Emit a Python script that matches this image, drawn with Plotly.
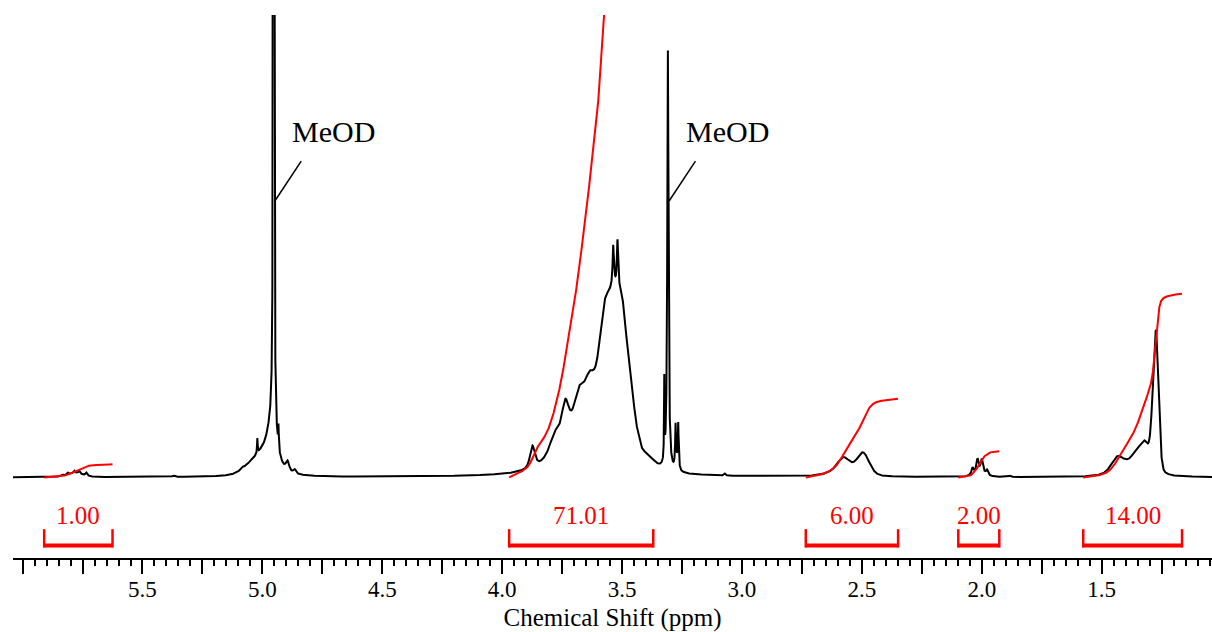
import numpy as np
import plotly.graph_objects as go

# --- 1H NMR peak table: centre (ppm), height, half width (ppm), Lorentzian fraction
peak_ppm = [5.834, 5.812, 5.785, 5.764, 5.734, 5.78, 5.37, 5.084,
            4.953, 4.963, 5.005, 5.06, 5.021, 4.933, 4.895, 4.866,
            3.874, 3.78, 3.737, 3.68, 3.635, 3.65, 3.575, 3.525,
            3.537, 3.519, 3.50, 3.48, 3.46, 3.437, 3.40,
            3.324, 3.309, 3.277, 3.266, 3.271, 3.072,
            2.576, 2.495, 2.58,
            2.039, 2.018, 2.000, 1.978, 2.01, 1.883,
            1.274, 1.29, 1.32, 1.355, 1.435, 1.39]
peak_height = [1.5, 2, 2.5, 3, 3, 4, 1.5, 2,
               1600, 40, 16, 5, 15, 22, 9, 4,
               22, 18, 35, 30, 35, 50, 95, 140,
               39, 48, 47, 47, 47, 15, 12,
               80, 422, 40, 42, 8, 2,
               13, 22, 6,
               7, 13, 13, 5, 5, 1.5,
               138, 15, 26, 14, 14, 9]
peak_hwhm = [0.004, 0.004, 0.004, 0.004, 0.004, 0.04, 0.006, 0.005,
             0.0022, 0.025, 0.045, 0.04, 0.0015, 0.0015, 0.008, 0.006,
             0.012, 0.025, 0.017, 0.025, 0.025, 0.12, 0.03, 0.035,
             0.003, 0.003, 0.013, 0.013, 0.013, 0.013, 0.04,
             0.0012, 0.003, 0.002, 0.002, 0.008, 0.004,
             0.03, 0.03, 0.07,
             0.005, 0.005, 0.005, 0.005, 0.025, 0.004,
             0.013, 0.012, 0.022, 0.025, 0.03, 0.06]
peak_eta = [1, 1, 1, 1, 1, 0.5, 1, 1,
            0.6, 1, 0.5, 0.5, 1, 1, 0.5, 0.5,
            0.6, 0.5, 0.5, 0.5, 0.5, 0.5, 0.5, 0.3,
            1, 1, 0.3, 0.3, 0.3, 0.3, 0.5,
            1, 1, 1, 1, 0.5, 1,
            0.3, 0.3, 0.5,
            1, 1, 1, 1, 0.5, 1,
            0.2, 0.3, 0.5, 0.5, 0.5, 0.5]

# --- integration regions (ppm) and their values
integral_start = [5.910, 3.971, 2.734, 2.098, 1.577]
integral_end = [5.625, 3.370, 2.349, 1.927, 1.165]
integral_value = [1.00, 71.01, 6.00, 2.00, 14.00]
integral_label = ["1.00", "71.01", "6.00", "2.00", "14.00"]
integral_scale = 13.2          # curve rise per integral unit

# --- solvent peaks
solvent_ppm = [4.953, 3.309]
solvent_label = ["MeOD", "MeOD"]

# --- axis ticks
tick_values = [6.0, 5.75, 5.5, 5.25, 5.0, 4.75, 4.5, 4.25, 4.0, 3.75, 3.5,
               3.25, 3.0, 2.75, 2.5, 2.25, 2.0, 1.75, 1.5, 1.25]
tick_labels = ["", "", "5.5", "", "5.0", "", "4.5", "", "4.0", "", "3.5",
               "", "3.0", "", "2.5", "", "2.0", "", "1.5", ""]

X_RANGE = [6.04, 1.04]
Y_RANGE = [-81, 465]
SERIF = "Liberation Serif, Times New Roman, serif"
RED = "#ff0000"


def line_shape(x, c, h, w, eta):
    r2 = ((x - c) / w) ** 2
    return h * (eta / (1.0 + r2) + (1.0 - eta) * np.exp(-np.log(2.0) * r2))


grid = np.arange(X_RANGE[0], X_RANGE[1] - 1e-9, -0.0002)
ppm = np.unique(np.concatenate([grid, np.array(peak_ppm)]))[::-1]
intensity = np.zeros_like(ppm)
for c, h, w, e in zip(peak_ppm, peak_height, peak_hwhm, peak_eta):
    intensity += line_shape(ppm, c, h, w, e)

fig = go.Figure()
fig.add_trace(go.Scatter(x=ppm, y=intensity, mode="lines",
                         line=dict(color="black", width=2), hoverinfo="skip"))

shapes = []
annotations = []

# integral curves, brackets and values
for start, end, value, label in zip(integral_start, integral_end,
                                    integral_value, integral_label):
    sel = (ppm <= start) & (ppm >= end)
    xs = ppm[sel]
    ys = intensity[sel]
    steps = np.abs(np.diff(xs))
    cum = np.concatenate([[0.0], np.cumsum(0.5 * (ys[1:] + ys[:-1]) * steps)])
    curve = cum / cum[-1] * value * integral_scale
    fig.add_trace(go.Scatter(x=xs, y=curve, mode="lines",
                             line=dict(color=RED, width=2), hoverinfo="skip"))

    for xv in (start, end):
        shapes.append(dict(type="line", xref="x", yref="y", x0=xv, x1=xv,
                           y0=-52, y1=-70.5, line=dict(color=RED, width=2.5)))
    shapes.append(dict(type="line", xref="x", yref="y", x0=start, x1=end,
                       y0=-68.5, y1=-68.5, line=dict(color=RED, width=4)))
    annotations.append(dict(x=(start + end) / 2, y=-38, xref="x", yref="y",
                            text=label, showarrow=False,
                            font=dict(family=SERIF, size=25, color=RED)))

# solvent labels with leader lines
for s, label in zip(solvent_ppm, solvent_label):
    shapes.append(dict(type="line", xref="x", yref="y", x0=s - 0.005, y0=278,
                       x1=s - 0.115, y1=318, line=dict(color="black", width=1.5)))
    annotations.append(dict(x=s - 0.25, y=348, xref="x", yref="y", text=label,
                            showarrow=False,
                            font=dict(family=SERIF, size=30, color="black")))

fig.update_layout(
    width=1212, height=632,
    margin=dict(l=13, r=0, t=15, b=71),
    paper_bgcolor="white", plot_bgcolor="white",
    showlegend=False,
    shapes=shapes, annotations=annotations,
    xaxis=dict(
        range=X_RANGE, showgrid=False, zeroline=False,
        showline=True, linecolor="black", linewidth=2,
        tickmode="array", tickvals=tick_values, ticktext=tick_labels,
        ticks="outside", ticklen=14, tickwidth=2, tickcolor="black",
        ticklabelstandoff=-5,
        tickfont=dict(family=SERIF, size=23, color="black"),
        minor=dict(tickmode="linear", tick0=0, dtick=0.05, ticks="outside",
                   ticklen=6, tickwidth=2, tickcolor="black", showgrid=False),
        title=dict(text="Chemical Shift (ppm)", standoff=13,
                   font=dict(family=SERIF, size=25, color="black")),
    ),
    yaxis=dict(range=Y_RANGE, visible=False),
)

fig.write_html("out.html", config={"displayModeBar": False})
